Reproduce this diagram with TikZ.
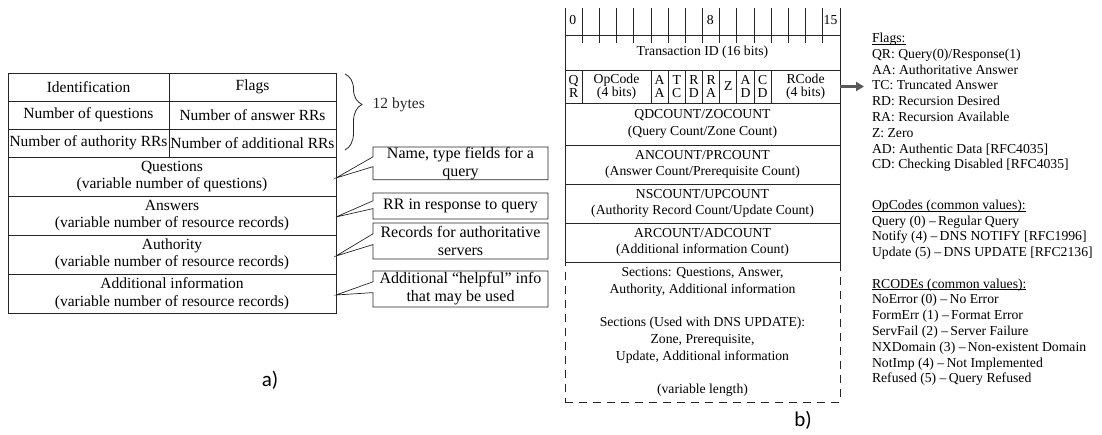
\documentclass[tikz,border=0pt]{standalone}
\usepackage{fontspec}
\setmainfont{Liberation Serif}
\newfontfamily\labfont{Carlito}
\usetikzlibrary{positioning,calc,arrows.meta,decorations.pathreplacing}

\newcommand{\bitw}{17.1875}
\newcommand{\headul}[1]{\leavevmode\setbox0\hbox{#1}\rlap{\vrule width\wd0 height -1.3pt depth 2pt}\box0}

\tikzset{
	box/.style={draw=black!85, line width=0.8pt, inner sep=0pt, outer sep=0pt, align=center},
	hcell/.style={box, minimum height=28pt, font=\fontsize{15.5}{17}\selectfont},
	sect/.style={box, minimum width=328pt, minimum height=39pt, font=\fontsize{15.5}{17.5}\selectfont},
	note/.style={inner sep=0pt, outer sep=0pt, minimum width=175pt, align=center, font=\fontsize{16}{18}\selectfont},
	noteline/.style={draw=black!85, line width=0.7pt, line join=miter},
	bits/.style={box, minimum width=275pt, font=\fontsize{13.7}{16.7}\selectfont},
	flagbox/.style={box, minimum height=33pt, font=\fontsize{13.7}{12.5}\selectfont},
	rule/.style={black!85, line width=0.8pt},
	listtxt/.style={inner sep=0pt, outer sep=0pt, align=left, font=\fontsize{13.7}{15.8}\selectfont},
	bytebrace/.style={decorate, decoration={brace, amplitude=17pt, aspect=0.4}, black!85, line width=0.8pt},
	flagarrow/.style={-{Triangle[length=8pt,width=9pt]}, line width=2.6pt, black!65},
	caption/.style={font=\labfont\fontsize{21}{24}\selectfont}
}

\begin{document}
\begin{tikzpicture}[x=1pt,y=-1pt]
	\useasboundingbox (0,0) rectangle (1102,434);

	% a) header, 12 bytes
	\node[hcell, minimum width=161pt, anchor=north west] (ident) at (8,73) {Identification};
	\node[hcell, minimum width=167pt, right=0pt of ident] (flags) {Flags};
	\node[hcell, minimum width=161pt, below=0pt of ident] (nques) {Number of questions};
	\node[hcell, minimum width=167pt, below=0pt of flags] (nans) {Number of answer RRs};
	\node[hcell, minimum width=161pt, below=0pt of nques] (nauth) {Number of authority RRs};
	\node[hcell, minimum width=167pt, below=0pt of nans] (naddl) {Number of additional RRs};

	\node[sect, below right=0pt and 0pt of nauth.south west] (quest) {Questions\\(variable number of questions)};
	\node[sect, below=0pt of quest] (answ) {Answers\\(variable number of resource records)};
	\node[sect, below=0pt of answ] (auth) {Authority\\(variable number of resource records)};
	\node[sect, below=0pt of auth] (addl) {Additional information\\(variable number of resource records)};

	\draw[bytebrace] ([xshift=9pt,yshift=-1pt]flags.north east) -- ([xshift=9pt,yshift=7pt]naddl.south east)
		node[pos=0.4, right=24pt, font=\fontsize{15.5}{17}\selectfont] (bytes) {12 bytes};

	% callouts
	\node[note, minimum height=32pt, anchor=north west] (n1) at (373,147) {Name, type fields for a\\query};
	\node[note, minimum height=26pt, anchor=north west] (n2) at (373,193) {RR in response to query};
	\node[note, minimum height=36pt, anchor=north west] (n3) at (373,223) {Records for authoritative\\servers};
	\node[note, minimum height=36pt, anchor=north west] (n4) at (373,271) {Additional ``helpful'' info\\that may be used};

	\foreach \sec/\nt in {quest/n1, answ/n2, auth/n3, addl/n4} {
		\coordinate (\nt tip) at ([yshift=18pt]\sec.south east);
		\draw[noteline] (\nt.north west) -- (\nt.north east) -- (\nt.south east) -- (\nt.south west)
			-- ($(\nt.south west)!0.4!(\nt.north west)$) -- (\nt tip)
			-- ($(\nt.south west)!0.7!(\nt.north west)$) -- cycle;
	}

	\node[caption] (capa) at (270,380) {a)};

	% b) header with bit ruler
	\node[bits, minimum height=35pt, anchor=north west] (tid) at (565,35) {Transaction ID (16 bits)};
	\draw[rule] (tid.north west) -- ++(0,-27);
	\draw[rule] (tid.north east) -- ++(0,-27);
	\foreach \k in {1,...,15}
		\draw[rule] ($(tid.north west)+(\k*\bitw,-27)$) -- ++(0,35);
	\foreach \k/\lbl in {0/0, 8/8, 15/15}
		\node[font=\fontsize{13.7}{15}\selectfont] (bit\k) at ($(tid.north west)+(\k*\bitw+0.45*\bitw,-15)$) {\lbl};

	\foreach \nm/\s/\w/\txt in {qr/0/1/{Q\\R}, opc/1/4/{OpCode\\(4 bits)}, aa/5/1/{A\\A}, tc/6/1/{T\\C},
			rd/7/1/{R\\D}, ra/8/1/{R\\A}, z/9/1/{Z}, ad/10/1/{A\\D}, cd/11/1/{C\\D}, rcode/12/4/{RCode\\(4 bits)}}
		\node[flagbox, minimum width={\w*\bitw*1pt}, anchor=north west] (\nm) at ($(tid.south west)+(\s*\bitw,0)$) {\txt};

	\node[bits, minimum height=42pt, below right=0pt and 0pt of qr.south west] (qd) {QDCOUNT/ZOCOUNT\\(Query Count/Zone Count)};
	\node[bits, minimum height=39pt, below=0pt of qd] (an) {ANCOUNT/PRCOUNT\\(Answer Count/Prerequisite Count)};
	\node[bits, minimum height=39pt, below=0pt of an] (ns) {NSCOUNT/UPCOUNT\\(Authority Record Count/Update Count)};
	\node[bits, minimum height=39pt, below=0pt of ns] (ar) {ARCOUNT/ADCOUNT\\(Additional information Count)};
	\node[bits, minimum height=140pt, dash pattern=on 8pt off 6pt, below=0pt of ar] (sects)
		{Sections: Questions, Answer,\\Authority, Additional information\\[16.7pt]
		 Sections (Used with DNS UPDATE):\\Zone, Prerequisite,\\Update, Additional information\\[16.7pt]
		 (variable length)};

	\coordinate (arrowend) at ($(rcode.east)+(24,0)$);
	\draw[flagarrow] (rcode.east) -- (arrowend);

	% value lists
	\node[listtxt, anchor=north west] (flaglist) at (872,33) {\headul{Flags:}\\
		QR: Query(0)/Response(1)\\
		AA: Authoritative Answer\\
		TC: Truncated Answer\\
		RD: Recursion Desired\\
		RA: Recursion Available\\
		Z: Zero\\
		AD: Authentic Data [RFC4035]\\
		CD: Checking Disabled [RFC4035]};
	\node[listtxt, below=28pt of flaglist.south west, anchor=north west] (oplist) {\headul{OpCodes (common values):}\\
		Query (0) --\,Regular Query\\
		Notify (4) --\,DNS NOTIFY [RFC1996]\\
		Update (5) --\,DNS UPDATE [RFC2136]};
	\node[listtxt, below=19pt of oplist.south west, anchor=north west] (rclist) {\headul{RCODEs (common values):}\\
		NoError (0) --\,No Error\\
		FormErr (1) --\,Format Error\\
		ServFail (2) --\,Server Failure\\
		NXDomain (3) --\,Non-existent Domain\\
		NotImp (4) --\,Not Implemented\\
		Refused (5) --\,Query Refused};

	\node[caption] (capb) at (803,420) {b)};
\end{tikzpicture}
\end{document}
